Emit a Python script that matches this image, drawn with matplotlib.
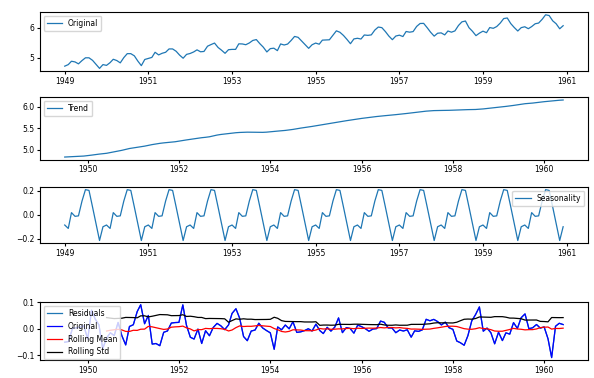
import matplotlib
matplotlib.use("Agg")
import matplotlib.pyplot as plt
import matplotlib.dates as mdates
import numpy as np
import pandas as pd

# monthly airline passengers, 1949-1960
passengers = [
    112, 118, 132, 129, 121, 135, 148, 148, 136, 119, 104, 118,
    115, 126, 141, 135, 125, 149, 170, 170, 158, 133, 114, 140,
    145, 150, 178, 163, 172, 178, 199, 199, 184, 162, 146, 166,
    171, 180, 193, 181, 183, 218, 230, 242, 209, 191, 172, 194,
    196, 196, 236, 235, 229, 243, 264, 272, 237, 211, 180, 201,
    204, 188, 235, 227, 234, 264, 302, 293, 259, 229, 203, 229,
    242, 233, 267, 269, 270, 315, 364, 347, 312, 274, 237, 278,
    284, 277, 317, 313, 318, 374, 413, 405, 355, 306, 271, 306,
    315, 301, 356, 348, 355, 422, 465, 467, 404, 347, 305, 336,
    340, 318, 362, 348, 363, 435, 491, 505, 404, 359, 310, 337,
    360, 342, 406, 396, 420, 472, 548, 559, 463, 407, 362, 405,
    417, 391, 419, 461, 472, 535, 622, 606, 508, 461, 390, 432,
]
months = pd.date_range("1949-01-01", periods=len(passengers), freq="MS")
odd_years = [1949, 1951, 1953, 1955, 1957, 1959, 1961]
even_years = [1950, 1952, 1954, 1956, 1958, 1960]

ts_log = pd.Series(np.log(passengers), index=months)

# additive decomposition (2x12 centred moving average)
w = np.r_[0.5, np.ones(11), 0.5] / 12
trend = pd.Series(np.nan, index=months)
trend.iloc[6:-6] = np.convolve(ts_log.values, w, mode="valid")
detr = ts_log - trend
month_means = detr.groupby(detr.index.month).mean()
month_means = month_means - month_means.mean()
seasonal = pd.Series(month_means.loc[months.month].values, index=months)
residual = (ts_log - trend - seasonal).dropna()
rolmean = residual.rolling(12).mean()
rolstd = residual.rolling(12).std()

plt.rcParams["font.size"] = 5.5
fig = plt.figure(figsize=(5.94, 3.78), dpi=100)
L, R = 0.067, 0.990
ax1 = fig.add_axes([L, 0.812, R - L, 0.156])
ax2 = fig.add_axes([L, 0.577, R - L, 0.166])
ax3 = fig.add_axes([L, 0.357, R - L, 0.148])
ax4 = fig.add_axes([L, 0.047, R - L, 0.154])

ax1.plot(ts_log, label="Original", lw=0.9)
ax1.legend(loc="upper left")
ax1.set_yticks([5, 6])

ax2.plot(trend, label="Trend", lw=0.9)
ax2.legend(loc="upper left")
ax2.set_yticks([5.0, 5.5, 6.0])

ax3.plot(seasonal, label="Seasonality", lw=0.9)
ax3.legend(loc="upper right")
ax3.set_yticks([-0.2, 0.0, 0.2])

ax4.plot(residual, label="Residuals", lw=0.9)
ax4.plot(residual, color="blue", label="Original", lw=0.9)
ax4.plot(rolmean, color="red", label="Rolling Mean", lw=0.9)
ax4.plot(rolstd, color="black", label="Rolling Std", lw=0.9)
ax4.legend(loc="upper left")
ax4.set_yticks([-0.1, 0.0, 0.1])

for ax, yrs in [(ax1, odd_years), (ax2, even_years), (ax3, odd_years), (ax4, even_years)]:
    ax.set_xticks([mdates.date2num(pd.Timestamp(f"{y}-01-01")) for y in yrs])
    ax.xaxis.set_major_formatter(mdates.DateFormatter("%Y"))
    ax.tick_params(length=2.5, pad=1.5)

fig.savefig("out.png", dpi=100)
